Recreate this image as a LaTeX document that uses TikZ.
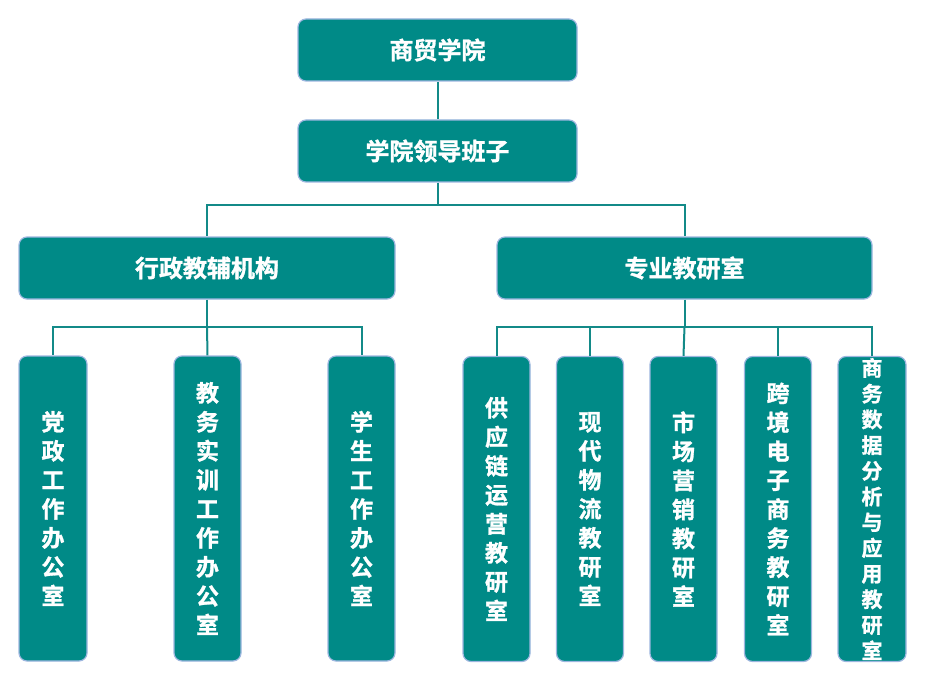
\documentclass[tikz,border=0pt]{standalone}
\usepackage{fontspec}
\setmainfont{Noto Sans CJK SC}[BoldFont={Noto Sans CJK SC Bold},BoldFeatures={FakeBold=1.2}]
\definecolor{boxfill}{HTML}{008A87}
\definecolor{boxedge}{HTML}{9DB6DF}
\definecolor{linecol}{HTML}{138A88}
\begin{document}
\begin{tikzpicture}[x=1pt,y=-1pt,
  box/.style={draw=boxedge,fill=boxfill,line width=1.2pt,rounded corners=8pt,
    text=white,inner sep=0pt,align=center,font=\bfseries\fontsize{23}{29}\selectfont},
  hbox/.style={box,minimum height=62pt,font=\bfseries\fontsize{24}{29}\selectfont},
  vbox/.style={box,minimum width=67pt,minimum height=305pt},
  vtext/.style={text=white,inner sep=0pt,align=center,font=\bfseries\fontsize{21}{25.7}\selectfont},
  conn/.style={draw=linecol,line width=2pt}]
\useasboundingbox (0,0) rectangle (927,682);
\node[hbox,minimum width=279pt] (top) at (437.5,50) {商贸学院};
\node[hbox,minimum width=279pt] (lead) at (437.5,151) {学院领导班子};
\node[hbox,minimum width=376pt] (admin) at (207,268) {行政教辅机构};
\node[hbox,minimum width=375pt] (prof) at (684.5,268) {专业教研室};
\node[vbox,minimum width=68pt] (a1) at (53,508.5) {党\\政\\工\\作\\办\\公\\室};
\node[vbox] (a2) at (207.5,508.5) {教\\务\\实\\训\\工\\作\\办\\公\\室};
\node[vbox] (a3) at (361.5,508.5) {学\\生\\工\\作\\办\\公\\室};
\node[vbox] (p1) at (496.5,509) {供\\应\\链\\运\\营\\教\\研\\室};
\node[vbox] (p2) at (590,509) {现\\代\\物\\流\\教\\研\\室};
\node[vbox] (p3) at (683.5,509) {市\\场\\营\\销\\教\\研\\室};
\node[vbox] (p4) at (778,509) {跨\\境\\电\\子\\商\\务\\教\\研\\室};
\node[vbox,minimum width=68pt] (p5) at (872,509) {};
\node[vtext] (p5t) at (p5.center) {商\\务\\数\\据\\分\\析\\与\\应\\用\\教\\研\\室};
\draw[conn] (top) -- (lead);
\draw[conn] (lead.south) -- ++(0,22) coordinate (b1);
\draw[conn] (b1) -| (admin.north);
\draw[conn] (b1) -| (prof.north);
\draw[conn] (admin.south) -- ++(0,27) coordinate (b2);
\draw[conn] (b2) -| (a1.north);
\draw[conn] (b2) -| (a3.north);
\draw[conn] (b2) -- (a2.north);
\draw[conn] (prof.south) -- ++(0,27) coordinate (b3);
\draw[conn] (b3) -| (p1.north);
\draw[conn] (b3) -| (p2.north);
\draw[conn] (b3) -- (p3.north);
\draw[conn] (b3) -| (p4.north);
\draw[conn] (b3) -| (p5.north);
\end{tikzpicture}
\end{document}
